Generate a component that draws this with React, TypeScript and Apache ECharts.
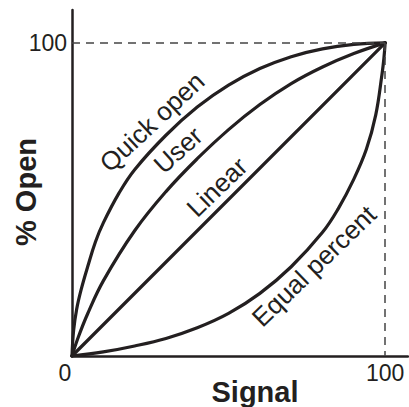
import React, { useEffect, useRef } from "react";
import * as echarts from "echarts";

const xTickLabels = [0, 100];
const yTickLabels = [100];

const quickOpen: [number, number][] = [
  [0, 0], [0.5, 8], [1.5, 15], [3, 21.5], [5, 28.5], [7.5, 36.5], [10, 42.5], [15, 52],
  [20, 59.5], [30, 70.5], [40, 79.5], [50, 86.5], [60, 91.8], [70, 95.6], [80, 98.1], [90, 99.5], [100, 100],
];
const userCurve: [number, number][] = [
  [0, 0], [2, 6], [5, 13.5], [10, 24], [20, 40], [30, 52.5], [40, 63], [50, 72.3],
  [60, 80.3], [70, 87], [80, 92.3], [90, 96.6], [100, 100],
];
const linearCurve: [number, number][] = [
  [0, 0], [100, 100],
];
const equalPercent: [number, number][] = [
  [0, 0], [10, 1.3], [20, 3.2], [30, 5.6], [40, 9.0], [50, 13.6], [60, 20], [70, 28.5],
  [80, 39.5], [85, 47], [90, 56.5], [94, 66], [97, 77], [99, 90], [99.6, 95], [100, 100],
];

const curveLabels = [
  { text: "Quick open", x: 152, y: 122, angle: 43 },
  { text: "User", x: 178, y: 150, angle: 42 },
  { text: "Linear", x: 217, y: 187, angle: 44 },
  { text: "Equal percent", x: 314, y: 266, angle: 44 },
];

const INK = "#231f20";
const FONT = "'Liberation Sans', Arial, Helvetica, sans-serif";

export default function App() {
  const ref = useRef<HTMLDivElement>(null);
  useEffect(() => {
    if (!ref.current) return;
    const chart = echarts.init(ref.current, undefined, { renderer: "svg" });
    const lineSeries = (name: string, data: [number, number][], extra: any = {}) => ({
      name,
      type: "line",
      data,
      smooth: 0.4,
      showSymbol: false,
      silent: true,
      lineStyle: { color: INK, width: 3.2, cap: "round", join: "round" },
      ...extra,
    });
    chart.setOption({
      animation: false,
      backgroundColor: "#ffffff",
      grid: { left: 72, right: 1, top: 10, bottom: 51, outerBoundsMode: "none", containLabel: false },
      xAxis: {
        type: "value",
        min: 0,
        max: 107.3,
        interval: 100,
        axisLine: { show: true, onZero: false, lineStyle: { color: INK, width: 2.5 } },
        axisTick: { show: false },
        splitLine: { show: false },
        axisLabel: {
          margin: 5,
          color: INK,
          fontSize: 23,
          fontFamily: FONT,
          showMaxLabel: false,
          formatter: (v: number) =>
            xTickLabels.includes(v) ? (v === 0 ? "{z|" + v + "}" : String(v)) : "",
          rich: { z: { fontSize: 23, fontFamily: FONT, color: INK, padding: [0, 14, 0, 0] } },
        },
      },
      yAxis: {
        type: "value",
        min: 0,
        max: 110.5,
        interval: 100,
        axisLine: { show: true, onZero: false, lineStyle: { color: INK, width: 2.5 } },
        axisTick: { show: false },
        splitLine: { show: false },
        axisLabel: {
          margin: 5,
          color: INK,
          fontSize: 23,
          fontFamily: FONT,
          showMaxLabel: false,
          formatter: (v: number) => (yTickLabels.includes(v) ? String(v) : ""),
        },
      },
      series: [
        lineSeries("Quick open", quickOpen),
        lineSeries("User", userCurve),
        lineSeries("Linear", linearCurve, {
          smooth: false,
          markLine: {
            silent: true,
            symbol: "none",
            label: { show: false },
            lineStyle: { color: "#444444", width: 1.5, type: [8, 6] },
            data: [
              [{ coord: [0, 100] }, { coord: [100, 100] }],
              [{ coord: [100, 100] }, { coord: [100, 0] }],
            ],
          },
        }),
        lineSeries("Equal percent", equalPercent),
      ],
      graphic: [
        ...curveLabels.map((l) => ({
          type: "text",
          x: l.x,
          y: l.y,
          rotation: (l.angle * Math.PI) / 180,
          style: {
            text: l.text,
            fill: INK,
            fontSize: 26,
            fontFamily: FONT,
            align: "center",
            verticalAlign: "middle",
          },
        })),
        {
          type: "text",
          x: 255,
          y: 392,
          style: {
            text: "Signal",
            fill: INK,
            fontSize: 29,
            fontWeight: "bold",
            fontFamily: FONT,
            align: "center",
            verticalAlign: "middle",
          },
        },
        {
          type: "text",
          x: 26,
          y: 192,
          rotation: Math.PI / 2,
          style: {
            text: "% Open",
            fill: INK,
            fontSize: 29,
            fontWeight: "bold",
            fontFamily: FONT,
            align: "center",
            verticalAlign: "middle",
          },
        },
      ],
    });
    return () => chart.dispose();
  }, []);
  return (
    <div
      ref={ref}
      style={{ position: "fixed", left: 0, top: 0, width: 409, height: 407, background: "#fff" }}
    />
  );
}
